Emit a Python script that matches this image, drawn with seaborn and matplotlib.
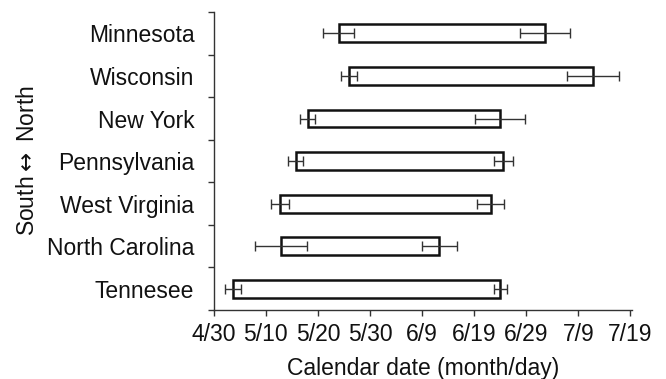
import numpy as np
import pandas as pd
import matplotlib.pyplot as plt
import seaborn as sns

# States, listed north (top) to south (bottom)
states = ["Minnesota", "Wisconsin", "New York", "Pennsylvania",
          "West Virginia", "North Carolina", "Tennesee"]
# days after 4/30
start_day = [24.0, 26.0, 18.0, 15.7, 12.7, 12.9, 3.7]
start_err = [3.0, 1.5, 1.5, 1.4, 1.8, 5.0, 1.6]
end_day = [63.5, 72.8, 54.9, 55.6, 53.2, 43.3, 55.0]
end_err = [4.8, 5.0, 4.8, 1.8, 2.6, 3.3, 1.2]

tick_days = [0, 10, 20, 30, 40, 50, 60, 70, 80]
tick_labels = ["4/30", "5/10", "5/20", "5/30", "6/9", "6/19", "6/29", "7/9", "7/19"]

sns.set_theme(style="ticks")
plt.rcParams["font.family"] = ["Liberation Sans", "DejaVu Sans"]
plt.rcParams.update({"font.size": 16.5, "text.color": "#111111",
                     "axes.labelcolor": "#111111",
                     "mathtext.fontset": "dejavusans",
                     "xtick.color": "#333333", "ytick.color": "#333333",
                     "xtick.labelcolor": "#111111", "ytick.labelcolor": "#111111"})

df = pd.DataFrame({
    "state": states,
    "start": start_day,
    "duration": np.array(end_day) - np.array(start_day),
})

fig = plt.figure(figsize=(6.66, 3.79), dpi=100)
ax = fig.add_axes([0.321, 0.182, 0.628, 0.786])

sns.barplot(data=df, x="duration", y="state", orient="h", left=df["start"].values,
            color="white", saturation=1, edgecolor="#111111", linewidth=1.8,
            width=0.42, errorbar=None, ax=ax)

ypos = np.arange(len(states))
err_style = dict(fmt="none", ecolor="#333333", elinewidth=1.0, capsize=3.4, capthick=1.0)
ax.errorbar(start_day, ypos, xerr=start_err, **err_style)
ax.errorbar(end_day, ypos, xerr=end_err, **err_style)

ax.set_xlim(0, 80.3)
ax.set_ylim(len(states) - 0.5, -0.5)
ax.set_xticks(tick_days)
ax.set_xticklabels(tick_labels, fontsize=16.5)
ax.set_yticks(ypos)
ax.set_yticklabels(states, fontsize=16.5)
ax.set_yticks(np.arange(-0.5, len(states), 1), minor=True)
ax.tick_params(axis="y", which="major", length=0, pad=14)
ax.tick_params(axis="y", which="minor", length=4.5, width=1.0)
ax.tick_params(axis="x", length=4, width=1.0, pad=5)

ax.set_xlabel("Calendar date (month/day)", fontsize=16.5, labelpad=8)
ax.set_ylabel(r"South$\leftrightarrow$ North", fontsize=16.5, labelpad=6)

sns.despine(ax=ax)
for side in ["left", "bottom"]:
    ax.spines[side].set_color("#333333")
    ax.spines[side].set_linewidth(1.0)

fig.savefig("out.png", dpi=100)
